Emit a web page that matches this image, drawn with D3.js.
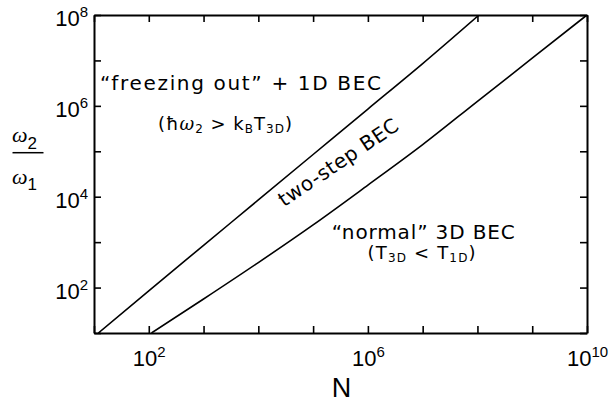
<!DOCTYPE html>
<html>
<head>
<meta charset="utf-8">
<script src="https://cdn.jsdelivr.net/npm/d3@7"></script>
<style>
body { margin: 0; background: #fff; }
text { font-family: "Liberation Sans", Arial, sans-serif; fill: #000; }
.note { font-family: "DejaVu Sans", "Liberation Sans", sans-serif; }
</style>
</head>
<body>
<div id="graph"></div>
<script>
//Data
// upper boundary ("freezing out" + 1D BEC above it)
const freezeN = [12, 1e2, 1e3, 1e4, 1e5, 1e6, 1e7, 1.07e8];
const freezeRatio = [10, 85, 850, 8.5e3, 8.5e4, 8.5e5, 8.5e6, 1e8];
// lower boundary ("normal" 3D BEC below it)
const normalN = [1.12e2, 1e3, 1e4, 1e5, 1e6, 1e7, 1e8, 1e9, 1e10];
const normalRatio = [10, 56, 355, 2.4e3, 1.8e4, 1.4e5, 1.26e6, 1.12e7, 1e8];

const xTickValues = [1e1, 1e2, 1e3, 1e4, 1e5, 1e6, 1e7, 1e8, 1e9, 1e10];
const yTickValues = [1e1, 1e2, 1e3, 1e4, 1e5, 1e6, 1e7, 1e8];
const xLabelExps = [2, 6, 10];
const yLabelExps = [2, 4, 6, 8];

//General config
const W = 610, H = 402;
const margin = {top: 15, right: 23, bottom: 69, left: 94};
const width = W - margin.left - margin.right;
const height = H - margin.top - margin.bottom;
const tickLen = 7;

const svg = d3.select('#graph').append('svg')
    .attr('width', W)
    .attr('height', H);

const group = svg.append('g')
    .attr('transform', `translate(${margin.left}, ${margin.top})`);

//Scales
const x = d3.scaleLog().domain([1e1, 1e10]).range([0, width]);
const y = d3.scaleLog().domain([1e1, 1e8]).range([height, 0]);

//Tick label as 10 with a raised exponent
const supLabel = (sel, exps) => {
    sel.selectAll('.tick text').each(function(d) {
        const e = Math.round(Math.log10(d));
        const t = d3.select(this).text('');
        if (!exps.includes(e)) return;
        t.append('tspan').text('10');
        t.append('tspan').attr('font-size', 15).attr('dy', -9).text(e);
    });
};

//Axes (ticks point inwards)
const xBottom = group.append('g')
    .attr('transform', `translate(0, ${height})`)
    .call(d3.axisBottom(x).tickValues(xTickValues).tickSizeInner(-tickLen)
        .tickSizeOuter(0).tickPadding(17));
xBottom.selectAll('text').attr('font-size', 22);
supLabel(xBottom, xLabelExps);

group.append('g')
    .call(d3.axisTop(x).tickValues(xTickValues).tickSizeInner(-tickLen)
        .tickSizeOuter(0).tickFormat(''));

const yLeft = group.append('g')
    .call(d3.axisLeft(y).tickValues(yTickValues).tickSizeInner(-tickLen)
        .tickSizeOuter(0).tickPadding(6));
yLeft.selectAll('text').attr('font-size', 22).attr('dy', '0.48em');
supLabel(yLeft, yLabelExps);

group.append('g')
    .attr('transform', `translate(${width}, 0)`)
    .call(d3.axisRight(y).tickValues(yTickValues).tickSizeInner(-tickLen)
        .tickSizeOuter(0).tickFormat(''));

group.selectAll('.domain').attr('stroke', '#000').attr('stroke-width', 2);
group.selectAll('.tick line').attr('stroke', '#000').attr('stroke-width', 1.6);
group.selectAll('.tick text').attr('fill', '#000')
    .style('font-family', '"Liberation Sans", Arial, sans-serif');

//Lines
group.append('clipPath').attr('id', 'plot-clip')
    .append('rect').attr('width', width).attr('height', height);

const line = d3.line()
    .x(d => x(d[0]))
    .y(d => y(d[1]))
    .curve(d3.curveMonotoneX);

const series = [
    d3.zip(freezeN, freezeRatio),
    d3.zip(normalN, normalRatio)
];

group.append('g')
    .attr('clip-path', 'url(#plot-clip)')
    .selectAll('path')
    .data(series)
    .enter()
    .append('path')
    .attr('d', line)
    .attr('fill', 'none')
    .attr('stroke', '#000')
    .attr('stroke-width', 1.6);

//Region annotations (positions in data units)
group.append('text')
    .attr('class', 'note')
    .attr('x', x(Math.pow(10, 1.11)))
    .attr('y', y(Math.pow(10, 6.36)))
    .attr('font-size', 20)
    .attr('textLength', 281)
    .attr('lengthAdjust', 'spacing')
    .text('\u201cfreezing out\u201d  + 1D BEC');

const t2 = group.append('text')
    .attr('class', 'note')
    .attr('x', x(Math.pow(10, 3.39)))
    .attr('y', y(Math.pow(10, 5.47)))
    .attr('text-anchor', 'middle')
    .attr('font-size', 18)
    .attr('textLength', 134)
    .attr('lengthAdjust', 'spacing')
    .attr('fill', '#222');
t2.append('tspan').text('(\u0127');
t2.append('tspan').attr('font-style', 'italic').attr('font-family', '"DejaVu Serif", serif').text('\u03c9');
t2.append('tspan').attr('font-size', 12).attr('dy', 3).text('2');
t2.append('tspan').attr('dy', -3).text(' > k');
t2.append('tspan').attr('font-size', 12).attr('dy', 3).text('B');
t2.append('tspan').attr('dy', -3).text('T');
t2.append('tspan').attr('font-size', 12).attr('dy', 3).text('3D');
t2.append('tspan').attr('dy', -3).text(')');

const cx = x(Math.pow(10, 5.53)), cy = y(Math.pow(10, 4.63));
group.append('text')
    .attr('class', 'note')
    .attr('transform', `translate(${cx}, ${cy}) rotate(-34)`)
    .attr('text-anchor', 'middle')
    .attr('font-size', 20)
    .attr('textLength', 140)
    .attr('lengthAdjust', 'spacing')
    .text('two-step BEC');

group.append('text')
    .attr('class', 'note')
    .attr('x', x(Math.pow(10, 7.01)))
    .attr('y', y(Math.pow(10, 3.08)))
    .attr('text-anchor', 'middle')
    .attr('font-size', 20)
    .attr('textLength', 183)
    .attr('lengthAdjust', 'spacing')
    .text('\u201cnormal\u201d 3D BEC');

const t4 = group.append('text')
    .attr('class', 'note')
    .attr('x', x(Math.pow(10, 6.98)))
    .attr('y', y(Math.pow(10, 2.62)))
    .attr('text-anchor', 'middle')
    .attr('font-size', 18)
    .attr('textLength', 108)
    .attr('lengthAdjust', 'spacing')
    .attr('fill', '#222');
t4.append('tspan').text('(T');
t4.append('tspan').attr('font-size', 12).attr('dy', 3).text('3D');
t4.append('tspan').attr('dy', -3).text(' < T');
t4.append('tspan').attr('font-size', 12).attr('dy', 3).text('1D');
t4.append('tspan').attr('dy', -3).text(')');

//Axis titles
svg.append('text')
    .attr('x', margin.left + width * 0.502)
    .attr('y', 396.5)
    .attr('text-anchor', 'middle')
    .attr('font-size', 27)
    .text('N');

const frac = svg.append('g');
const num = frac.append('text').attr('x', 12).attr('y', 141.5);
num.append('tspan').attr('font-size', 22).attr('font-style', 'italic')
    .attr('font-family', '"Liberation Serif", serif').text('\u03c9');
num.append('tspan').attr('font-size', 17).attr('dy', 7.5).text('2');
frac.append('line')
    .attr('x1', 12.5).attr('x2', 43.5)
    .attr('y1', 152.7).attr('y2', 152.7)
    .attr('stroke', '#000').attr('stroke-width', 1.5);
const den = frac.append('text').attr('x', 12).attr('y', 184);
den.append('tspan').attr('font-size', 22).attr('font-style', 'italic')
    .attr('font-family', '"Liberation Serif", serif').text('\u03c9');
den.append('tspan').attr('font-size', 17).attr('dy', 6).text('1');
</script>
</body>
</html>
